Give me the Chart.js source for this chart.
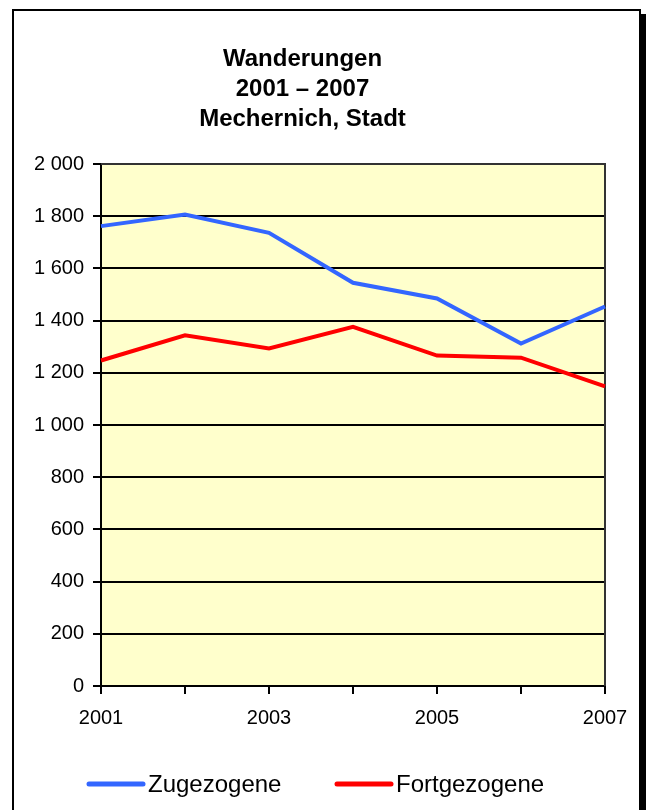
<!DOCTYPE html>
<html>
<head>
<meta charset="utf-8">
<script src="https://cdn.jsdelivr.net/npm/chart.js@4.4.1/dist/chart.umd.min.js"></script>
<style>
  html, body { margin: 0; padding: 0; background: #fff; width: 646px; height: 810px; overflow: hidden; }
  #frame { position: absolute; left: 12px; top: 9px; width: 625px; height: 830px; border: 2px solid #000; box-shadow: 5px 5px 0 #000; background: #fff; }
  #wrap { position: absolute; left: 0; top: 0; width: 646px; height: 810px; }
</style>
</head>
<body>
<div id="frame"></div>
<div id="wrap"><canvas id="c" width="646" height="810"></canvas></div>
<script>
const titleLines = ['Wanderungen', '2001 \u2013 2007', 'Mechernich, Stadt'];
const years = ['2001', '2002', '2003', '2004', '2005', '2006', '2007'];
const zugezogene = [1762, 1806, 1736, 1545, 1485, 1312, 1454];
const fortgezogene = [1247, 1344, 1293, 1376, 1266, 1258, 1148];
const seriesNames = ['Zugezogene', 'Fortgezogene'];
const seriesColors = ['#3366FF', '#FF0000'];
const yMin = 0, yMax = 2000, yStep = 200;

const FONT = "'Liberation Sans', Arial, sans-serif";

const plotBg = {
  id: 'plotBg',
  beforeDraw(chart) {
    const { ctx, chartArea: a } = chart;
    ctx.save();
    ctx.fillStyle = '#FFFFCC';
    ctx.fillRect(a.left, a.top, a.right - a.left, a.bottom - a.top);
    ctx.restore();
  },
  beforeDatasetsDraw(chart) {
    const { ctx, chartArea: a } = chart;
    ctx.save();
    ctx.strokeStyle = '#333';
    ctx.lineWidth = 2;
    ctx.beginPath();
    ctx.moveTo(a.left, a.top);
    ctx.lineTo(a.right, a.top);
    ctx.lineTo(a.right, a.bottom);
    ctx.stroke();
    ctx.restore();
  }
};

const legendStarts = [87, 335];
const customLegend = {
  id: 'customLegend',
  afterDraw(chart) {
    const { ctx } = chart;
    ctx.save();
    const y = 784;
    chart.data.datasets.forEach((ds, i) => {
      const x0 = legendStarts[i];
      ctx.strokeStyle = ds.borderColor;
      ctx.lineWidth = 5;
      ctx.lineCap = 'round';
      ctx.beginPath();
      ctx.moveTo(x0 + 2, y);
      ctx.lineTo(x0 + 56, y);
      ctx.stroke();
      ctx.fillStyle = '#000';
      ctx.font = '24px ' + FONT;
      ctx.textBaseline = 'alphabetic';
      ctx.textAlign = 'left';
      ctx.fillText(ds.label, x0 + 61, y + 8);
    });
    ctx.restore();
  }
};

new Chart(document.getElementById('c'), {
  type: 'line',
  data: {
    labels: years,
    datasets: [
      { label: seriesNames[0], data: zugezogene, borderColor: seriesColors[0], backgroundColor: seriesColors[0], borderWidth: 4, pointRadius: 0, tension: 0, fill: false },
      { label: seriesNames[1], data: fortgezogene, borderColor: seriesColors[1], backgroundColor: seriesColors[1], borderWidth: 4, pointRadius: 0, tension: 0, fill: false }
    ]
  },
  options: {
    responsive: false,
    animation: false,
    events: [],
    layout: { padding: { left: 0, right: 41, top: 0, bottom: 64 } },
    plugins: {
      legend: { display: false },
      tooltip: { enabled: false },
      title: {
        display: true,
        text: titleLines,
        color: '#000',
        font: { family: FONT, size: 24, weight: 'bold', lineHeight: 1.25 },
        padding: { top: 44, bottom: 30 }
      }
    },
    scales: {
      x: {
        type: 'category',
        offset: false,
        afterFit(scale) { scale.height = 60; },
        grid: { drawOnChartArea: false, drawTicks: true, tickLength: 8, color: '#000', lineWidth: 2 },
        border: { display: true, color: '#000', width: 2 },
        ticks: {
          autoSkip: false, maxRotation: 0, minRotation: 0, padding: 12,
          color: '#000', font: { family: FONT, size: 20 },
          callback(val, i) { return i % 2 === 0 ? years[i] : ''; }
        }
      },
      y: {
        min: yMin, max: yMax,
        afterFit(scale) { scale.width = 101; },
        grid: { drawTicks: true, tickLength: 8, color: '#000', lineWidth: 2 },
        border: { display: true, color: '#000', width: 2 },
        ticks: {
          stepSize: yStep, padding: 9, color: '#000', font: { family: FONT, size: 20 },
          callback(v) { return String(v).replace(/\B(?=(\d{3})+(?!\d))/g, ' '); }
        }
      }
    }
  },
  plugins: [plotBg, customLegend]
});
</script>
</body>
</html>
